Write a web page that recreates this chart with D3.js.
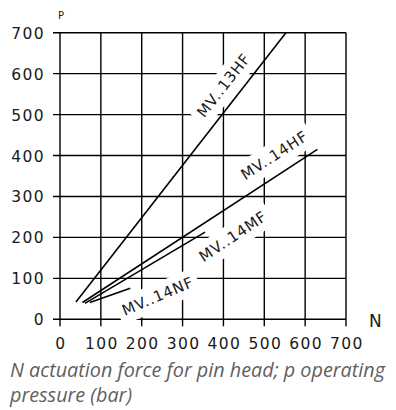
<!DOCTYPE html>
<html>
<head>
<meta charset="utf-8">
<script src="https://cdn.jsdelivr.net/npm/d3@7"></script>
<style>
body { margin: 0; background: #fff; }
svg text { font-family: "DejaVu Sans", sans-serif; }
.tick { font-size: 15.5px; font-weight: normal; letter-spacing: 1.4px; fill: #1a1a1a; }
.lbl { font-size: 15px; font-weight: normal; letter-spacing: 0.8px; fill: #1a1a1a; }
.caption { font-family: "Open Sans", sans-serif; font-style: italic; font-size: 19.8px; fill: #606060; }
</style>
</head>
<body>
<svg width="396" height="410"></svg>
<script>
// axis ticks (N and p)
var xTicks = [0, 100, 200, 300, 400, 500, 600, 700];
var yTicks = [0, 100, 200, 300, 400, 500, 600, 700];

// curves: start/end points (N, p)
var names  = ["MV..13HF", "MV..14HF", "MV..14MF", "MV..14NF"];
var startN = [39, 55, 61, 73];
var startP = [42, 41, 39, 41];
var endN   = [553, 630, 355, 172];
var endP   = [700, 415, 213, 76];

// label centres (N, p) and angles
var labelN = [400, 524, 423, 239];
var labelP = [572, 401, 203, 57];
var labelA = [-52, -33, -34, -23];

var svg = d3.select("svg");

var x = d3.scaleLinear().domain([0, 700]).range([60, 346]);
var y = d3.scaleLinear().domain([0, 700]).range([319.3, 32.7]);

var grid = svg.append("g").attr("stroke", "#000").attr("stroke-width", 1.4);

grid.selectAll(".v").data(xTicks).enter().append("line")
  .attr("x1", function(d) { return x(d); })
  .attr("x2", function(d) { return x(d); })
  .attr("y1", y(700))
  .attr("y2", y(0) + 7);

grid.selectAll(".h").data(yTicks).enter().append("line")
  .attr("y1", function(d) { return y(d); })
  .attr("y2", function(d) { return y(d); })
  .attr("x1", x(0) - 7)
  .attr("x2", x(700));

svg.append("g").selectAll("text").data(yTicks).enter().append("text")
  .attr("class", "tick")
  .attr("x", 45)
  .attr("y", function(d) { return y(d) + 6; })
  .attr("text-anchor", "end")
  .text(function(d) { return d; });

svg.append("g").selectAll("text").data(xTicks).enter().append("text")
  .attr("class", "tick")
  .attr("x", function(d) { return x(d) + 1; })
  .attr("y", 349)
  .attr("text-anchor", "middle")
  .text(function(d) { return d; });

svg.append("text").attr("class", "tick").style("font-size", "10px")
  .attr("x", 58).attr("y", 19).text("P");
svg.append("text").attr("class", "tick").style("font-size", "17px")
  .attr("x", 369).attr("y", 327).text("N");

// labels: white box masks the grid
var labels = svg.append("g").selectAll("g").data(names).enter().append("g")
  .attr("transform", function(d, i) {
    return "translate(" + x(labelN[i]) + "," + y(labelP[i]) + ") rotate(" + labelA[i] + ")";
  });

labels.append("text")
  .attr("class", "lbl")
  .attr("text-anchor", "middle")
  .attr("y", 5.5)
  .text(function(d) { return d; });

labels.each(function() {
  var g = d3.select(this);
  var bb = g.select("text").node().getBBox();
  g.insert("rect", "text")
    .attr("x", bb.x - 5).attr("y", bb.y - 4)
    .attr("width", bb.width + 10).attr("height", bb.height + 8)
    .attr("fill", "#fff");
});

// curves
svg.append("g").selectAll("line").data(names).enter().append("line")
  .attr("x1", function(d, i) { return x(startN[i]); })
  .attr("y1", function(d, i) { return y(startP[i]); })
  .attr("x2", function(d, i) { return x(endN[i]); })
  .attr("y2", function(d, i) { return y(endP[i]); })
  .attr("stroke", "#000")
  .attr("stroke-width", 1.6);

svg.append("text").attr("class", "caption").attr("x", 10).attr("y", 377)
  .text("N actuation force for pin head; p operating");
svg.append("text").attr("class", "caption").attr("x", 10).attr("y", 402)
  .text("pressure (bar)");
</script>
</body>
</html>
